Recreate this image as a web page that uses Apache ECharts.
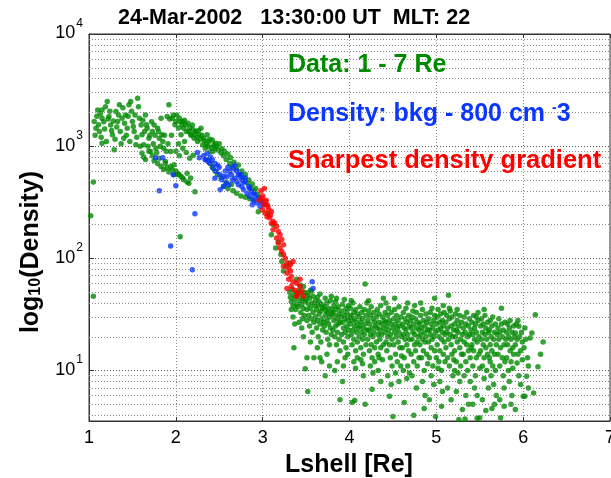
<!DOCTYPE html>
<html><head><meta charset="utf-8">
<script src="https://cdn.jsdelivr.net/npm/echarts@6/dist/echarts.min.js"></script>
<style>html,body{margin:0;padding:0;background:#fff;}#c{width:611px;height:478px;}</style>
</head><body><div id="c"></div>
<script>
const titleText = '24-Mar-2002   13:30:00 UT  MLT: 22';
const xName = 'Lshell [Re]';
const xTicks = [1, 2, 3, 4, 5, 6, 7];
const yMinorGrid = [4,5,6,7,8,9,20,30,40,50,60,70,80,90,200,300,400,500,600,700,800,900,2000,3000,4000,5000,6000,7000,8000,9000];

// Green: all data 1 - 7 Re  [Lshell, density]
const greenInner = [
[1.02,240],[1.05,480],[1.05,46],
[1.06,1656],[1.08,1445],[1.10,2105],[1.12,1349],[1.15,2105],[1.15,1775],[1.15,1064],[1.21,2500],[1.23,1837],[1.25,1548],[1.27,1262],[1.29,927],[1.31,2035],[1.33,1656],[1.35,2335],[1.36,1349],[1.38,1775],[1.40,1178],[1.42,1900],[1.44,1445],[1.46,2335],[1.48,2500],[1.50,1656],[1.52,1349],[1.54,1028],[1.56,2673],[1.58,1775],[1.60,1548],[1.61,1262],[1.63,1028],[1.65,1900],[1.67,1445],[1.69,1178],[1.71,896],[1.73,1349],[1.75,1548],[1.77,960],[1.79,1445],[1.81,1178],[1.83,1775],[1.84,1262],[1.86,960],[1.88,730],[1.90,1837],[1.92,2335],[1.94,896],[1.96,1775],[1.98,682],[2.00,1656],[2.02,574],[2.04,1775],[2.06,1262],[2.08,1656],[2.09,1445],[2.11,1548],[2.13,574],[2.15,1349],[2.17,1262],[2.19,1548],[2.21,1178],[2.23,1349],[2.25,1100],[2.27,1262],[2.29,1445],[2.31,1028],[2.32,1178],[2.34,960],[2.36,1262],[2.38,1100],[2.40,896],[2.42,1138],[2.44,1028],[2.46,1064],
[1.07,1250],[1.09,1850],[1.11,1550],[1.13,1950],[1.14,1200],[1.17,1650],[1.18,1420],[1.19,2250],[1.20,1100],[1.22,1750],[1.24,2050],[1.26,1380],[1.28,1680],[1.30,1150],[1.32,1480],[1.34,1900],[1.37,1050],[1.39,2200],[1.41,1600],[1.43,1250],[1.45,1850],[1.47,1100],[1.49,2050],[1.51,1500],[1.53,1900],[1.55,1200],[1.57,2250],[1.59,1000],[1.62,1700],[1.64,1350],[1.66,1550],[1.68,1000],[1.70,1250],[1.72,1650],[1.74,1050],[1.76,1250],[1.78,880],[1.80,1350],[1.82,1000],[1.85,1100],[1.87,1250],[1.89,900],[1.91,1050],[1.93,1750],[1.95,1250],[1.97,1900],[1.99,1550],[2.01,1900],[2.03,1450],[2.05,1650],[2.07,1550],[2.10,1700],[2.12,1350],[2.14,1600],[2.16,1450],[2.18,1250],[2.20,1400],[2.22,1300],[2.24,1200],[2.26,1380],[2.28,1150],[2.30,1250],[2.33,1120],[2.35,1050],[2.37,1000],[2.39,1150],[2.41,980],[2.43,900],[2.45,950],
[1.61,870],[1.63,800],[1.65,760],[1.69,900],[1.73,820],[1.75,740],[1.79,700],[1.81,780],[1.83,660],[1.86,620],[1.88,700],[1.90,640],[1.92,590],[1.94,659],[1.96,615],[1.98,560],[2.00,600],[2.02,560],[2.04,556],[2.06,537],[2.08,520],[2.09,501],[2.13,480],[2.15,468],[2.17,520],
[2.00,900],[2.04,820],[2.08,960],[2.12,880],[2.16,780],[2.20,830],[2.03,1050],[2.10,1100],
[2.47,1000],[2.49,920],[2.50,1050],[2.52,870],[2.53,950],[2.55,820],[2.56,900],[2.58,760],[2.60,850],[2.62,700],[2.63,790],[2.65,660],[2.67,720],[2.70,620],[2.72,680],[2.74,560],[2.76,600],[2.78,520],[2.80,560],[2.82,470],[2.84,500],[2.86,430],[2.88,460],[2.90,400],[2.92,420],[2.94,370],[2.96,350],[2.98,330],[2.55,440],[2.60,420],[2.66,400],[2.70,380],[2.75,360],[2.80,350],[2.85,340],[2.90,330],[2.58,480],[2.64,455],[2.52,520],[2.48,560],[2.45,600],[2.42,650],[2.40,700],[2.38,760],[2.95,260],[2.22,392],[2.05,156],
[3.10,162],[3.15,124],[3.21,108],[3.22,94],[3.24,77],[3.31,91],[3.39,65],[3.47,56],[3.51,49],[3.55,52],[3.02,300],[3.06,250],[3.12,200],[3.18,140],[3.27,85]
];
const greenTail = [
[3.31,50],[3.32,45],[3.33,41],[3.34,53],[3.35,38],[3.36,47],[3.37,43],[3.38,35],[3.39,49],[3.35,30],[3.37,26],[3.36,16],[3.33,35],[3.39,39],
[3.40,46],[3.41,37],[3.42,52],[3.43,42],[3.44,33],[3.44,48],[3.45,39],[3.46,29],[3.46,44],[3.47,36],[3.48,50],[3.48,31],[3.49,41],[3.42,27],[3.45,24],[3.47,20],[3.49,10.4],[3.43,58],
[3.50,43],[3.51,35],[3.51,28],[3.52,47],[3.53,39],[3.53,31],[3.54,25],[3.54,44],[3.55,36],[3.56,51],[3.56,29],[3.57,40],[3.57,22],[3.58,33],[3.58,46],[3.59,13],[3.59,27],[3.52,6.5],[3.55,18],[3.51,13],[3.60,38],
[3.61,42],[3.61,30],[3.62,35],[3.62,24],[3.63,45],[3.63,28],[3.64,38],[3.64,20],[3.65,32],[3.65,41],[3.66,26],[3.66,48],[3.67,34],[3.67,18],[3.68,29],[3.68,39],[3.69,23],[3.69,36],[3.70,27],[3.66,13],[3.63,16],[3.68,12],
[3.71,37],[3.71,25],[3.72,31],[3.72,44],[3.73,22],[3.73,34],[3.74,28],[3.74,40],[3.75,19],[3.75,33],[3.76,26],[3.76,36],[3.77,30],[3.77,17],[3.78,42],[3.78,24],[3.79,32],[3.79,21],[3.80,35],[3.74,14],[3.77,11],[3.72,9],[3.79,46],
[3.81,33],[3.81,23],[3.82,38],[3.82,28],[3.83,20],[3.83,31],[3.84,41],[3.84,25],[3.85,35],[3.85,17],[3.86,29],[3.86,22],[3.87,37],[3.87,26],[3.88,32],[3.88,19],[3.89,27],[3.89,15],[3.90,30],[3.86,12],[3.83,10],[3.89,5.5],[3.85,44],
[3.91,34],[3.91,21],[3.92,27],[3.92,39],[3.93,24],[3.93,18],[3.94,31],[3.94,43],[3.95,22],[3.95,29],[3.96,36],[3.96,16],[3.97,25],[3.97,33],[3.98,20],[3.98,28],[3.99,38],[3.99,23],[4.00,30],[3.95,13],[3.93,11],[3.98,14],[3.92,8],
[4.01,26],[4.01,36],[4.02,21],[4.02,31],[4.03,17],[4.03,28],[4.04,40],[4.04,23],[4.05,33],[4.05,19],[4.06,25],[4.06,29],[4.07,15],[4.07,35],[4.08,22],[4.08,27],[4.09,18],[4.09,32],[4.10,24],[4.05,12],[4.07,10.5],[4.03,5.2],[4.06,5.4],[4.09,13],[4.02,42],
[4.11,30],[4.11,20],[4.12,25],[4.12,37],[4.13,16],[4.13,27],[4.14,22],[4.14,33],[4.15,19],[4.15,29],[4.16,24],[4.16,14],[4.17,35],[4.17,21],[4.18,59],[4.18,26],[4.19,17],[4.19,31],[4.20,23],[4.15,11.5],[4.18,5],[4.13,12.5],[4.16,9],[4.20,40],
[4.21,28],[4.21,19],[4.22,34],[4.22,23],[4.23,15],[4.23,26],[4.24,31],[4.24,21],[4.25,17],[4.25,37],[4.26,24],[4.26,13],[4.27,29],[4.27,20],[4.28,33],[4.28,22],[4.29,16],[4.29,27],[4.30,25],[4.24,11],[4.27,9.5],[4.22,42],[4.29,12],[4.26,6.8],
[4.31,30],[4.31,18],[4.32,24],[4.32,35],[4.33,21],[4.33,14],[4.34,27],[4.34,32],[4.35,19],[4.35,23],[4.36,38],[4.36,16],[4.37,26],[4.37,21],[4.38,30],[4.38,12.5],[4.39,24],[4.39,17],[4.40,28],[4.33,10],[4.36,8],[4.39,44],[4.34,13],
[4.41,22],[4.41,33],[4.42,18],[4.42,27],[4.43,25],[4.43,15],[4.44,31],[4.44,20],[4.45,36],[4.45,23],[4.46,17],[4.46,28],[4.47,13],[4.47,21],[4.48,26],[4.48,33],[4.49,19],[4.49,11],[4.50,24],[4.46,5.9],[4.50,3.9],[4.44,9],[4.48,7.5],[4.42,40],
[4.51,29],[4.51,17],[4.52,22],[4.52,35],[4.53,14],[4.53,26],[4.54,20],[4.54,31],[4.55,24],[4.55,12],[4.56,18],[4.56,28],[4.57,22],[4.57,37],[4.58,16],[4.58,25],[4.59,30],[4.59,11],[4.60,20],[4.55,3.5],[4.53,9.5],[4.57,8],[4.60,13.5],[4.52,44],
[4.61,26],[4.61,16],[4.62,21],[4.62,33],[4.63,13],[4.63,24],[4.64,19],[4.64,29],[4.65,23],[4.65,36],[4.66,17],[4.66,27],[4.67,11],[4.67,21],[4.68,31],[4.68,15],[4.69,25],[4.69,19],[4.70,28],[4.63,5.2],[4.66,8.5],[4.69,9.5],[4.62,10],[4.67,40],
[4.71,24],[4.71,14],[4.72,30],[4.72,19],[4.73,22],[4.73,34],[4.74,12],[4.74,26],[4.75,17],[4.75,21],[4.76,29],[4.76,15],[4.77,24],[4.77,33],[4.78,18],[4.78,11],[4.79,27],[4.79,20],[4.80,23],[4.74,4.0],[4.77,7],[4.72,9],[4.80,13],[4.75,38],
[4.81,26],[4.81,17],[4.82,21],[4.82,31],[4.83,13],[4.83,24],[4.84,19],[4.84,35],[4.85,28],[4.85,15],[4.86,22],[4.86,10],[4.87,25],[4.87,18],[4.88,32],[4.88,20],[4.89,14],[4.89,27],[4.90,23],[4.84,8],[4.87,6],[4.90,11.5],[4.82,40],[4.86,4.6],
[4.91,29],[4.91,18],[4.92,23],[4.92,13],[4.93,33],[4.93,21],[4.94,26],[4.94,16],[4.95,19],[4.95,36],[4.96,24],[4.96,11],[4.97,28],[4.97,20],[4.98,15],[4.98,31],[4.99,22],[4.99,3.9],[5.00,26],[4.94,9],[4.97,7.5],[5.00,13],[4.92,5.5],[4.98,44],
[5.01,30],[5.01,17],[5.02,23],[5.02,35],[5.03,20],[5.03,12],[5.04,27],[5.04,15],[5.05,24],[5.05,32],[5.06,19],[5.06,10],[5.07,28],[5.07,22],[5.08,14],[5.08,25],[5.09,33],[5.09,18],[5.10,21],[5.04,8],[5.07,6.5],[5.02,10.5],[5.10,12],[5.06,4.8],[5.08,38],
[5.11,27],[5.11,16],[5.12,22],[5.12,31],[5.13,13],[5.13,24],[5.14,47],[5.14,19],[5.15,29],[5.15,11],[5.16,21],[5.16,34],[5.17,17],[5.17,25],[5.18,14],[5.18,30],[5.19,20],[5.19,9],[5.20,23],[5.13,7],[5.17,5.5],[5.20,12.5],[5.15,36],
[5.21,26],[5.21,15],[5.22,20],[5.22,32],[5.23,12],[5.23,23],[5.24,18],[5.24,28],[5.25,22],[5.25,9.5],[5.26,3.66],[5.26,25],[5.27,16],[5.27,31],[5.28,19],[5.28,11],[5.29,27],[5.29,14],[5.30,21],[5.23,6.5],[5.27,8],[5.24,35],[5.30,4.5],[5.21,10],
[5.31,24],[5.31,14],[5.32,30],[5.32,18],[5.33,3.7],[5.33,22],[5.34,12],[5.34,26],[5.35,17],[5.35,33],[5.36,20],[5.36,10],[5.37,25],[5.37,15],[5.38,29],[5.38,21],[5.39,13],[5.39,8],[5.40,23],[5.34,6],[5.37,5],[5.32,9],[5.40,16],
[5.41,27],[5.41,17],[5.42,21],[5.42,11],[5.43,31],[5.43,15],[5.44,24],[5.44,19],[5.45,9],[5.45,26],[5.46,13],[5.46,22],[5.47,3.75],[5.47,18],[5.48,33],[5.48,28],[5.49,14],[5.49,20],[5.50,3.8],[5.44,7],[5.47,6],[5.50,10.5],[5.42,5],[5.46,30],
[5.51,25],[5.51,15],[5.52,19],[5.52,29],[5.53,11],[5.53,22],[5.54,17],[5.54,26],[5.55,13],[5.55,8.5],[5.56,21],[5.56,31],[5.57,16],[5.57,24],[5.58,10],[5.58,19],[5.59,27],[5.59,14],[5.60,7],[5.53,5.5],[5.57,4.4],[5.60,22],[5.55,35],
[5.61,23],[5.61,13],[5.62,28],[5.62,17],[5.63,9],[5.63,20],[5.64,25],[5.64,15],[5.65,11],[5.65,30],[5.66,19],[5.66,7.5],[5.67,22],[5.67,14],[5.68,26],[5.68,10],[5.69,17],[5.69,6],[5.70,21],[5.64,4.6],[5.67,5],[5.62,12],
[5.71,24],[5.71,14],[5.72,19],[5.72,29],[5.73,11],[5.73,22],[5.74,3.8],[5.74,16],[5.75,36],[5.75,26],[5.76,13],[5.76,20],[5.77,9],[5.77,23],[5.78,17],[5.78,7],[5.79,27],[5.79,12],[5.80,19],[5.73,5.5],[5.78,4.8],
[5.81,22],[5.81,13],[5.82,26],[5.82,17],[5.83,10],[5.83,20],[5.84,24],[5.84,8],[5.85,15],[5.85,28],[5.86,12],[5.86,19],[5.87,6],[5.87,22],[5.88,16],[5.88,10.5],[5.89,25],[5.89,14],[5.90,20],[5.86,5],
[5.91,21.6],[5.91,17],[5.92,26],[5.93,11.7],[5.93,19],[5.94,14],[5.95,24.8],[5.95,9],[5.96,20],[5.97,15],[5.97,7.5],[5.98,22],[5.99,12.5],[5.91,4.5],[5.99,18],[5.94,28],
[6.00,5.9],[6.01,16],[6.02,5.9],[6.03,19],[6.04,8.9],[6.05,13],[6.06,7],[6.08,19.5],[6.10,21.6],[6.12,6.3],[6.14,31.5],[6.17,10.8],[6.20,14],[6.23,18],[6.02,24],[6.06,11]
];
// Blue: density between background and 800 cm^-3
const bluePts = [
[1.77,787],[1.85,787],[1.97,555],[2.00,444],[1.81,400],[2.22,250],[2.27,787],[1.94,129],[2.19,79],[3.57,62],[3.58,54],
[2.25,877],[2.34,766],[2.36,865],[2.34,755],[2.37,730],[2.39,705],[2.43,637],[2.47,594],[2.51,555],[2.45,519],[2.53,501],[2.55,537],[2.59,537],[2.62,594],[2.66,637],[2.64,555],[2.68,519],[2.70,484],[2.72,452],[2.74,537],[2.76,437],[2.78,408],[2.80,484],[2.82,381],[2.84,437],[2.85,356],[2.87,394],[2.89,333],[2.91,368],[2.93,311],[2.95,344],[2.97,290],[2.61,452],[2.55,437],[2.51,408],[2.40,800],[2.45,700],[2.50,650],[2.57,600],[2.60,650],[2.70,600],[2.75,560],[2.80,520],[2.72,560],[2.78,480],[2.68,680],[2.65,500],[2.85,420],[2.90,380],[2.99,310],[2.32,820],[2.42,760],[2.48,680],[2.58,470],[2.88,300],[2.76,500]
];
// Red: sharpest density gradient
const redPts = [
[2.99,344],[3.03,321],[3.01,300],[3.05,300],[3.07,271],[3.03,253],[3.09,244],[3.10,262],[3.12,213],[3.10,206],[3.14,206],[3.16,192],[3.12,180],[3.18,174],[3.20,162],[3.16,152],[3.22,147],[3.18,137],[3.24,132],[3.20,124],[3.22,115],[3.24,108],[3.26,100],[3.28,91],[3.24,85],[3.30,82],[3.32,77],[3.28,74],[3.33,69],[3.30,65],[3.35,62],[3.39,60],[3.33,56],[3.43,56],[3.37,52],[3.41,49],[3.45,51],[3.47,46],[3.39,46],[3.43,65],[3.35,94],[3.32,88],[3.28,54],
[2.98,400],[3.00,360],[3.02,420],[3.04,330],[3.06,290],[2.96,330],[3.00,270],[3.05,235],[3.08,230]
];

const FONT = 'Liberation Sans';
const chart = echarts.init(document.getElementById('c'), null, {renderer: 'canvas'});
const gridDot = {color: '#8a8a8a', type: [1, 2], width: 1};
const isPow10 = v => Math.abs(Math.log10(v) - Math.round(Math.log10(v))) < 1e-6;

chart.setOption({
  animation: false,
  backgroundColor: '#ffffff',
  grid: {left: 89, right: 1, top: 34, bottom: 57, containLabel: false, outerBoundsMode: 'none',
    show: true, borderColor: '#333', borderWidth: 1, backgroundColor: '#fff'},
  xAxis: [{
    type: 'value', min: xTicks[0], max: xTicks[xTicks.length - 1], interval: 1,
    axisLine: {show: true, lineStyle: {color: '#333', width: 1}},
    axisTick: {show: true, inside: true, length: 4, lineStyle: {color: '#333'}},
    axisLabel: {color: '#000', fontFamily: FONT, fontSize: 18, margin: 8, hideOverlap: false},
    splitLine: {show: true, lineStyle: gridDot}
  }, {
    type: 'value', position: 'top', min: xTicks[0], max: xTicks[xTicks.length - 1], interval: 1,
    axisLine: {show: true, lineStyle: {color: '#333', width: 1}},
    axisTick: {show: true, inside: true, length: 4, lineStyle: {color: '#333'}},
    axisLabel: {show: false}, splitLine: {show: false}
  }],
  yAxis: {
    type: 'log', logBase: 10, min: 3.55, max: 10000,
    axisLine: {show: true, lineStyle: {color: '#333', width: 1}},
    axisTick: {show: true, inside: true, length: 5, lineStyle: {color: '#333'}},
    splitLine: {show: true, lineStyle: {color: '#555', type: [1, 2], width: 1}},
    axisLabel: {
      margin: 6, padding: [0, 0, 8, 0],
      formatter: v => isPow10(v) ? '{b|10}{s|' + Math.round(Math.log10(v)) + '}' : '',
      rich: {
        b: {fontFamily: FONT, fontSize: 18, color: '#000', lineHeight: 25, verticalAlign: 'bottom'},
        s: {fontFamily: FONT, fontSize: 12, color: '#000', lineHeight: 11, verticalAlign: 'top', padding: [0, 0, 0, 1]}
      }
    }
  },
  series: [{
    type: 'line', data: [], z: 1, silent: true,
    markLine: {silent: true, symbol: ['none', 'none'], label: {show: false}, animation: false,
      lineStyle: gridDot, emphasis: {disabled: true},
      data: yMinorGrid.map(v => ({yAxis: v}))}
  }, {
    type: 'scatter', name: 'all', data: greenInner.concat(greenTail), symbol: 'circle', symbolSize: 5.5,
    itemStyle: {color: '#008a00'}, z: 3, silent: true
  }, {
    type: 'scatter', name: 'bkg-800', data: bluePts, symbol: 'circle', symbolSize: 5.5,
    itemStyle: {color: '#0a36ff'}, z: 4, silent: true
  }, {
    type: 'scatter', name: 'gradient', data: redPts, symbol: 'circle', symbolSize: 5.5,
    itemStyle: {color: '#ff0000'}, z: 5, silent: true
  }],
  graphic: [
    {type: 'text', x: 118, y: 18, z: 100, style: {text: titleText, font: 'bold 21.5px "Liberation Sans"', fill: '#000', align: 'left', verticalAlign: 'middle', textAlign: 'left', textVerticalAlign: 'middle'}},
    {type: 'text', x: 349, y: 465, z: 100, style: {text: xName, font: 'bold 25px "Liberation Sans"', fill: '#000', align: 'center', verticalAlign: 'middle', textAlign: 'center', textVerticalAlign: 'middle'}},
    {type: 'text', x: 31, y: 252, rotation: Math.PI / 2, z: 100, style: {
      text: '{a|log}{b|10}{a|(Density)}', align: 'center', verticalAlign: 'middle', textAlign: 'center', textVerticalAlign: 'middle',
      rich: {
        a: {fontFamily: FONT, fontWeight: 'bold', fontSize: 25, fill: '#000', color: '#000', lineHeight: 25, verticalAlign: 'top'},
        b: {fontFamily: FONT, fontWeight: 'bold', fontSize: 16, fill: '#000', color: '#000', lineHeight: 16, verticalAlign: 'bottom', padding: [10, 0, 0, 0]}
      }}},
    {type: 'text', x: 288, y: 65, z: 100, style: {text: 'Data: 1 - 7 Re', font: 'bold 25px "Liberation Sans"', fill: '#008a00', align: 'left', verticalAlign: 'middle', textAlign: 'left', textVerticalAlign: 'middle'}},
    {type: 'text', x: 288, y: 114, z: 100, style: {
      text: '{n|Density: bkg - 800 cm }{s|-}{n|3}', align: 'left', verticalAlign: 'middle', textAlign: 'left', textVerticalAlign: 'middle',
      rich: {
        n: {fontFamily: FONT, fontWeight: 'bold', fontSize: 25, fill: '#0a36ff', color: '#0a36ff', lineHeight: 25, verticalAlign: 'bottom'},
        s: {fontFamily: FONT, fontWeight: 'bold', fontSize: 14, fill: '#0a36ff', color: '#0a36ff', lineHeight: 12, verticalAlign: 'top'}
      }}},
    {type: 'text', x: 288, y: 161, z: 100, style: {text: 'Sharpest density gradient', font: 'bold 25.5px "Liberation Sans"', fill: '#ff0000', align: 'left', verticalAlign: 'middle', textAlign: 'left', textVerticalAlign: 'middle'}}
  ]
});
</script>
</body></html>
